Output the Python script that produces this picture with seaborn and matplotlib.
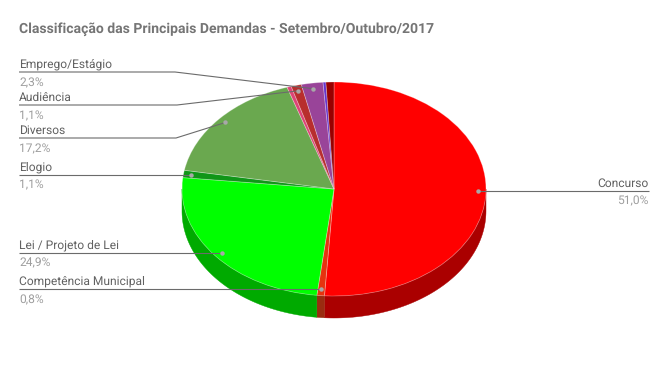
import numpy as np
import matplotlib
matplotlib.use("Agg")
import matplotlib.pyplot as plt
import seaborn as sns

sns.set_theme(style="white")
plt.rcParams['font.family'] = ['Roboto', 'DejaVu Sans']
plt.rcParams['text.hinting'] = 'no_hinting'
plt.rcParams['text.hinting_factor'] = 1

title = "Classificação das Principais Demandas - Setembro/Outubro/2017"
names = ["Concurso", "Competência Municipal", "Lei / Projeto de Lei", "Elogio", "Diversos",
         "", "Audiência", "Emprego/Estágio", "", ""]
values = [51.0, 0.8, 24.9, 1.1, 17.2, 0.45, 1.1, 2.3, 0.3, 0.85]
pct_labels = ["51,0%", "0,8%", "24,9%", "1,1%", "17,2%", "", "1,1%", "2,3%", "", ""]
top_colors = ["#ff0000", "#e6330f", "#00ff00", "#109618", "#6aa84f",
              "#dd4477", "#b82e2e", "#994499", "#6633cc", "#990000"]
side_colors = ["#aa0000", "#9a2c10", "#00aa00", "#0b6410", "#477034",
               "#942d50", "#7b1f1f", "#662d66", "#442288", "#660000"]
# label underline: y of line, x of elbow (None = straight)
label_y = {"Concurso": 190.5, "Competência Municipal": 289, "Lei / Projeto de Lei": 252.5,
           "Elogio": 174.5, "Diversos": 138, "Audiência": 105, "Emprego/Estágio": 72}
elbow_x = {"Diversos": 176, "Audiência": 177, "Emprego/Estágio": 175}

W, H = 668, 371
cx, cy, rx, ry, depth = 334, 189, 152, 107, 22

fig = plt.figure(figsize=(W / 100, H / 100), dpi=100)
ax = fig.add_axes([0, 0, 1, 1])
palette = sns.color_palette(top_colors)
wedges, _ = ax.pie(values, colors=palette, startangle=90, counterclock=False, radius=1,
                   wedgeprops=dict(edgecolor=(1, 1, 1, 0.3), linewidth=0.6))
for w in wedges:
    w.set_zorder(3)
ax.set_aspect("auto")
ax.set_xlim(-cx / rx, (W - cx) / rx)
ax.set_ylim((cy - H) / ry, cy / ry)
ax.axis("off")

# side wall, built from the same values
d = depth / ry
frac = np.cumsum([0] + values) / sum(values)
for i, col in enumerate(side_colors):
    a0, a1 = max(frac[i], 0.25) * 2 * np.pi, min(frac[i + 1], 0.75) * 2 * np.pi
    if a1 <= a0:
        continue
    t = np.linspace(a0, a1, 80)
    x, y = np.sin(t), np.cos(t)
    ax.fill(np.r_[x, x[::-1]], np.r_[y, y[::-1] - d], color=col, lw=0.3, zorder=2)

# overlay in pixel coordinates
ov = fig.add_axes([0, 0, 1, 1], facecolor="none")
ov.set_xlim(0, W)
ov.set_ylim(H, 0)
ov.axis("off")

ov.text(19, 32.5, title, fontsize=10.08, fontweight="bold", color="#757575", va="baseline", ha="left")

line_col = "#6b6b6b"
for i, n in enumerate(names):
    if not n:
        continue
    mid = (frac[i] + frac[i + 1]) / 2 * 2 * np.pi
    px = cx + rx * 0.947 * np.sin(mid)
    py = cy - ry * 0.947 * np.cos(mid)
    ly = label_y[n]
    right = n == "Concurso"
    x_end = 649 if right else 19
    if n in elbow_x:
        xs, ys = [x_end, elbow_x[n], px], [ly, ly, py]
    else:
        xs, ys = [x_end, px], [ly, ly]
        py = ly
    ov.plot(xs, ys, color=line_col, lw=0.8, zorder=5, solid_capstyle="butt")
    ov.plot([px], [py], "o", ms=3.2, mfc="#a8a8a8", mec="none", zorder=6)
    ov.text(x_end, ly - 4, n, fontsize=8.64, color="#616161", ha="right" if right else "left", va="baseline")
    ov.text(x_end, ly + 14, pct_labels[i], fontsize=8.64, color="#9e9e9e", ha="right" if right else "left", va="baseline")

fig.savefig("out.png", dpi=100, facecolor="white")
